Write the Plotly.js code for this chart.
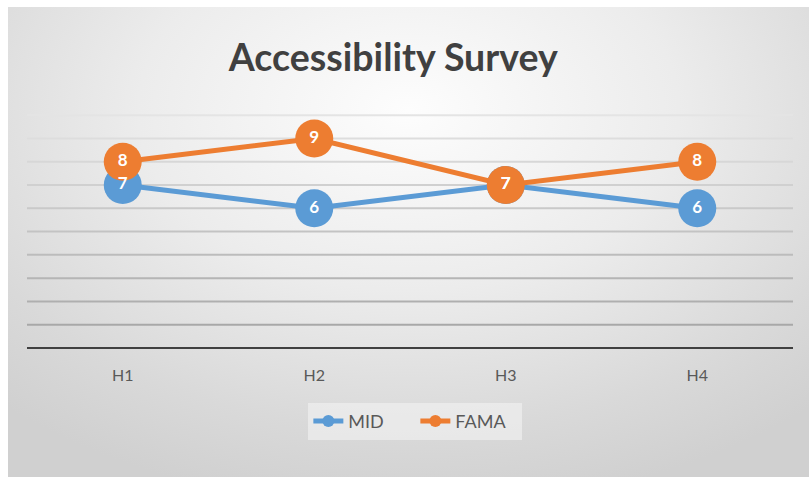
<!DOCTYPE html>
<html>
<head>
<meta charset="utf-8">
<script src="https://cdn.plot.ly/plotly-3.0.1.min.js"></script>
<style>
  html, body { margin: 0; padding: 0; background: #ffffff; width: 809px; height: 477px; overflow: hidden; }
  #wrap {
    position: absolute; left: 8px; top: 7px; width: 801px; height: 470px;
    background: radial-gradient(ellipse 75% 85% at 50% 22%, #fdfdfd 0%, #ececec 45%, #d9d9d9 80%, #d0d0d0 100%);
  }
  #chart { width: 801px; height: 470px; }
</style>
</head>
<body>
<div id="wrap"><div id="chart"></div></div>
<script>
const categories = ["H1", "H2", "H3", "H4"];
const midValues = [7, 6, 7, 6];
const famaValues = [8, 9, 7, 8];
const seriesNames = ["MID", "FAMA"];
const chartTitle = "Accessibility Survey";
const gridValues = [1, 2, 3, 4, 5, 6, 7, 8, 9, 10];

const FONT = "Lato, 'Open Sans', sans-serif";
const colors = ["#5B9BD5", "#ED7D31"];

function lineTrace(name, values, color) {
  return {
    type: "scatter",
    mode: "lines+markers",
    name: name,
    x: categories,
    y: values,
    line: { color: color, width: 5 },
    marker: { color: color, size: 38, line: { width: 0 } },
    cliponaxis: false,
    hoverinfo: "x+y+name"
  };
}
function labelTrace(values) {
  return {
    type: "scatter",
    mode: "text",
    x: categories,
    y: values,
    text: values.map(String),
    textposition: "middle center",
    textfont: { family: FONT, size: 17, color: "#ffffff", weight: 700 },
    showlegend: false,
    cliponaxis: false,
    hoverinfo: "skip"
  };
}

const data = [
  lineTrace(seriesNames[0], midValues, colors[0]),
  lineTrace(seriesNames[1], famaValues, colors[1]),
  labelTrace(midValues),
  labelTrace(famaValues)
];

// gridlines lighten toward the top, like the original
function gridColor(v) {
  const t = (v - 1) / 9;
  const c = Math.round(168 + t * (228 - 168));
  return "rgb(" + c + "," + c + "," + c + ")";
}
const shapes = gridValues.map(v => ({
  type: "line", xref: "paper", yref: "y", x0: 0, x1: 1, y0: v, y1: v,
  line: { color: gridColor(v), width: 2 }, layer: "below"
}));

const layout = {
  width: 801,
  height: 470,
  paper_bgcolor: "rgba(0,0,0,0)",
  plot_bgcolor: "rgba(0,0,0,0)",
  margin: { l: 19, r: 16, t: 107, b: 129 },
  title: {
    text: chartTitle,
    font: { family: FONT, size: 37.5, color: "#404040", weight: 700 },
    xref: "container", x: 0.481, xanchor: "center",
    yref: "container", y: 0.892, yanchor: "middle"
  },
  shapes: shapes,
  xaxis: {
    type: "category",
    range: [-0.5, 3.5],
    showgrid: false,
    zeroline: false,
    showline: false,
    ticks: "",
    ticklabelstandoff: 16,
    tickfont: { family: FONT, size: 16, color: "#595959" },
    fixedrange: true
  },
  yaxis: {
    range: [0, 10.05],
    dtick: 1,
    showticklabels: false,
    ticks: "",
    showgrid: false,
    zeroline: true,
    zerolinecolor: "#404040",
    zerolinewidth: 2.5,
    showline: false,
    fixedrange: true
  },
  showlegend: true,
  legend: {
    orientation: "h",
    x: 0.507, xanchor: "center",
    y: -0.313, yanchor: "middle",
    bgcolor: "rgba(240,240,240,0.7)",
    borderwidth: 0,
    itemsizing: "constant",
    entrywidth: 62,
    font: { family: FONT, size: 18, color: "#595959" },
    traceorder: "normal"
  }
};

Plotly.newPlot("chart", data, layout, { displayModeBar: false, staticPlot: true });
</script>
</body>
</html>
